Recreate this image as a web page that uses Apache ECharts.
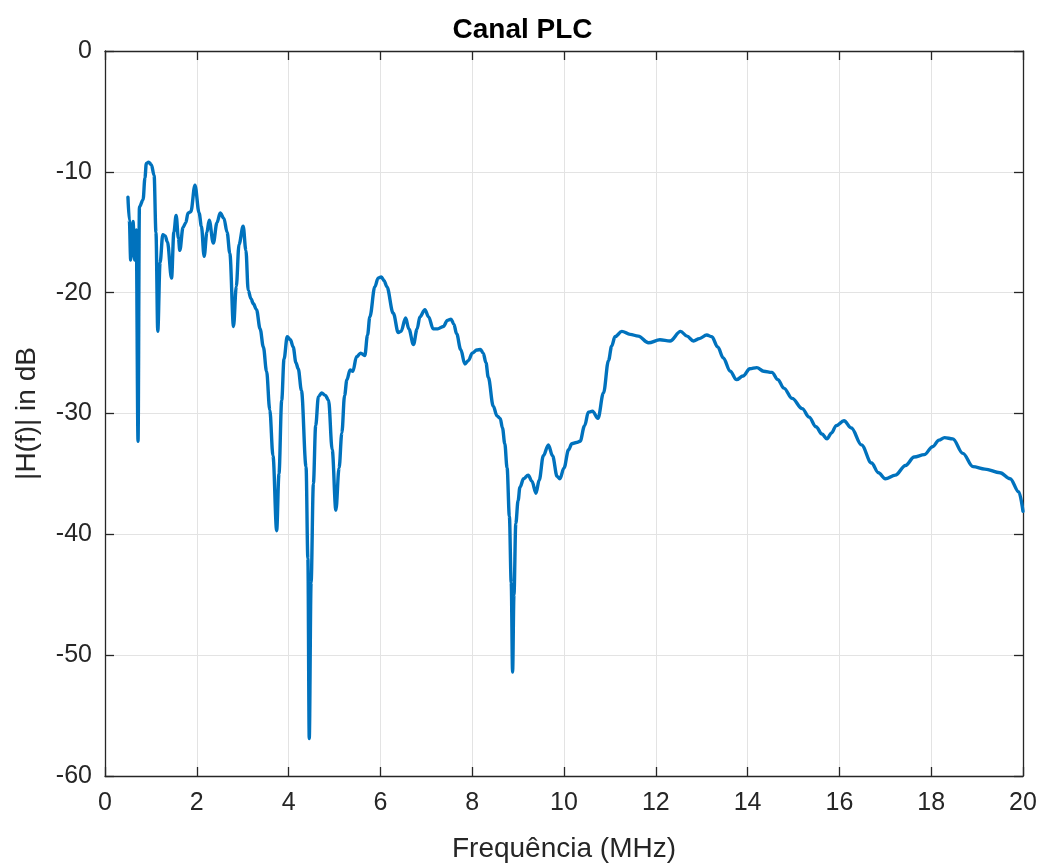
<!DOCTYPE html>
<html>
<head>
<meta charset="utf-8">
<title>Canal PLC</title>
<script src="https://cdn.jsdelivr.net/npm/echarts@6/dist/echarts.min.js"></script>
<style>
  html, body { margin: 0; padding: 0; background: #ffffff; }
  #chart { width: 1045px; height: 866px; }
</style>
</head>
<body>
<div id="chart"></div>
<script>
// Frequency samples (MHz) of the PLC channel response
const freqMHz = [
  0.50, 0.53, 0.56, 0.61, 0.65, 0.68, 0.72, 0.75, 0.83, 0.87,
  0.90, 0.95, 1.01, 1.07, 1.11, 1.15, 1.20, 1.26, 1.31, 1.36,
  1.45, 1.50, 1.55, 1.60, 1.63, 1.70, 1.76, 1.81, 1.87, 1.96,
  2.05, 2.10, 2.16, 2.22, 2.27, 2.36, 2.44, 2.51, 2.59, 2.66,
  2.72, 2.80, 2.86, 2.92, 3.01, 3.07, 3.12, 3.18, 3.23, 3.30,
  3.38, 3.45, 3.52, 3.59, 3.66, 3.74, 3.79, 3.85, 3.90, 3.97,
  4.04, 4.10, 4.16, 4.21, 4.28, 4.38, 4.42, 4.45, 4.49, 4.54,
  4.59, 4.65, 4.72, 4.80, 4.87, 4.95, 5.03, 5.10, 5.16, 5.22,
  5.27, 5.34, 5.40, 5.48, 5.57, 5.66, 5.72, 5.77, 5.88, 5.95,
  6.02, 6.08, 6.14, 6.28, 6.39, 6.45, 6.55, 6.62, 6.72, 6.80,
  6.86, 6.97, 7.05, 7.15, 7.25, 7.37, 7.46, 7.54, 7.60, 7.66,
  7.75, 7.84, 7.92, 8.00, 8.10, 8.18, 8.24, 8.30, 8.35, 8.46,
  8.54, 8.61, 8.66, 8.71, 8.76, 8.81, 8.85, 8.88, 8.91, 8.95,
  9.00, 9.04, 9.12, 9.22, 9.30, 9.39, 9.46, 9.55, 9.66, 9.75,
  9.85, 9.91, 10.00, 10.10, 10.17, 10.27, 10.35, 10.45, 10.53, 10.62,
  10.74, 10.86, 10.97, 11.04, 11.11, 11.26, 11.44, 11.62, 11.84, 12.09,
  12.31, 12.54, 12.68, 12.82, 12.95, 13.11, 13.22, 13.35, 13.47, 13.62,
  13.76, 13.90, 14.05, 14.20, 14.35, 14.53, 14.66, 14.79, 14.97, 15.19,
  15.34, 15.49, 15.62, 15.73, 15.83, 15.93, 16.10, 16.26, 16.48, 16.70,
  16.85, 17.00, 17.22, 17.44, 17.63, 17.85, 18.03, 18.17, 18.29, 18.47,
  18.69, 18.91, 19.17, 19.50, 19.72, 19.91, 20.00
];

// Magnitude |H(f)| in dB at each frequency sample
const magnitudeDb = [
  -12.1, -14.0, -17.3, -14.1, -17.3, -14.8, -32.3, -12.9, -12.3, -10.5,
  -9.3, -9.2, -9.4, -10.3, -15.0, -23.2, -17.5, -15.2, -15.3, -15.8,
  -18.8, -15.0, -13.6, -15.5, -16.5, -14.6, -14.2, -13.4, -13.3, -11.1,
  -13.4, -14.5, -17.0, -15.0, -14.0, -15.9, -14.2, -13.4, -13.85, -15.0,
  -16.75, -22.8, -19.5, -16.0, -14.5, -16.5, -19.8, -20.5, -20.9, -21.4,
  -23.0, -24.5, -26.5, -29.7, -33.5, -39.7, -35.0, -28.9, -25.5, -23.65,
  -23.9, -24.5, -25.8, -26.3, -28.1, -34.4, -42.0, -56.9, -44.0, -35.8,
  -31.0, -28.6, -28.3, -28.5, -28.9, -33.0, -38.0, -34.5, -31.6, -28.5,
  -27.2, -26.4, -26.5, -25.3, -25.0, -25.2, -23.5, -22.0, -19.5, -18.8,
  -18.7, -19.0, -19.5, -21.7, -23.3, -23.2, -22.1, -23.0, -24.3, -23.0,
  -22.0, -21.4, -22.0, -23.0, -23.0, -22.8, -22.3, -22.2, -22.6, -23.4,
  -24.7, -25.9, -25.6, -25.0, -24.75, -24.7, -25.0, -25.8, -27.0, -29.4,
  -30.2, -30.4, -31.2, -32.5, -34.5, -38.5, -44.0, -51.4, -45.0, -39.1,
  -37.2, -36.1, -35.4, -35.1, -35.6, -36.6, -35.5, -33.5, -32.6, -33.5,
  -35.2, -35.4, -34.5, -33.0, -32.5, -32.4, -32.3, -31.0, -29.9, -29.8,
  -30.4, -28.3, -25.6, -24.4, -23.65, -23.2, -23.45, -23.6, -24.15, -23.9,
  -24.0, -23.2, -23.6, -24.0, -23.8, -23.5, -23.65, -24.5, -25.4, -26.5,
  -27.2, -26.9, -26.3, -26.2, -26.5, -26.6, -27.2, -27.9, -28.75, -29.6,
  -30.3, -31.1, -31.7, -32.1, -31.6, -31.0, -30.6, -31.2, -32.6, -34.1,
  -34.9, -35.4, -35.1, -34.3, -33.6, -33.4, -32.75, -32.2, -32.0, -32.1,
  -33.3, -34.4, -34.6, -34.9, -35.4, -36.5, -38.1
];

// Axis limits and tick steps
const xRange = [0, 20];
const xStep = 2;
const yRange = [-60, 0];
const yStep = 10;

const titleText = 'Canal PLC';
const xLabelText = 'Frequência (MHz)';
const yLabelText = '|H(f)| in dB';

const FONT = '"Liberation Sans", Arial, Helvetica, sans-serif';
const INK = '#262626';

const chart = echarts.init(document.getElementById('chart'), null, { renderer: 'canvas' });

const boxAxisLine = { show: true, onZero: false, lineStyle: { color: INK, width: 1.3 } };
const boxTick = { show: true, inside: true, length: 9, lineStyle: { color: INK, width: 1.3 } };

chart.setOption({
  animation: false,
  backgroundColor: '#ffffff',
  title: {
    text: titleText,
    left: 'center',
    top: 11,
    textStyle: { fontFamily: FONT, fontWeight: 'bold', fontSize: 28, color: '#000000' }
  },
  grid: { left: 105, right: 22, top: 51, bottom: 90, containLabel: false, outerBoundsMode: 'none' },
  xAxis: [
    {
      type: 'value',
      min: xRange[0], max: xRange[1], interval: xStep,
      position: 'bottom',
      name: xLabelText,
      nameLocation: 'middle',
      nameGap: 59,
      nameTextStyle: { fontFamily: FONT, fontSize: 28, color: INK },
      axisLine: boxAxisLine,
      axisTick: boxTick,
      axisLabel: { fontFamily: FONT, fontSize: 25, color: INK, margin: 15 },
      splitLine: { show: true, lineStyle: { color: '#e3e3e3', width: 1 } }
    },
    {
      type: 'value',
      min: xRange[0], max: xRange[1], interval: xStep,
      position: 'top',
      axisLine: boxAxisLine,
      axisTick: boxTick,
      axisLabel: { show: false },
      splitLine: { show: false }
    }
  ],
  yAxis: [
    {
      type: 'value',
      min: yRange[0], max: yRange[1], interval: yStep,
      position: 'left',
      name: yLabelText,
      nameLocation: 'middle',
      nameGap: 64,
      nameRotate: 90,
      nameTextStyle: { fontFamily: FONT, fontSize: 28, color: INK },
      axisLine: boxAxisLine,
      axisTick: boxTick,
      axisLabel: { fontFamily: FONT, fontSize: 25, color: INK, margin: 13 },
      splitLine: { show: true, lineStyle: { color: '#e3e3e3', width: 1 } }
    },
    {
      type: 'value',
      min: yRange[0], max: yRange[1], interval: yStep,
      position: 'right',
      axisLine: boxAxisLine,
      axisTick: boxTick,
      axisLabel: { show: false },
      splitLine: { show: false }
    }
  ],
  series: [
    {
      type: 'line',
      xAxisIndex: 0,
      yAxisIndex: 0,
      data: freqMHz.map((f, i) => [f, magnitudeDb[i]]),
      showSymbol: false,
      smooth: 0.35,
      smoothMonotone: 'x',
      lineStyle: { color: '#0072BD', width: 3.4, join: 'round', cap: 'round' },
      clip: true
    }
  ]
});
</script>
</body>
</html>
